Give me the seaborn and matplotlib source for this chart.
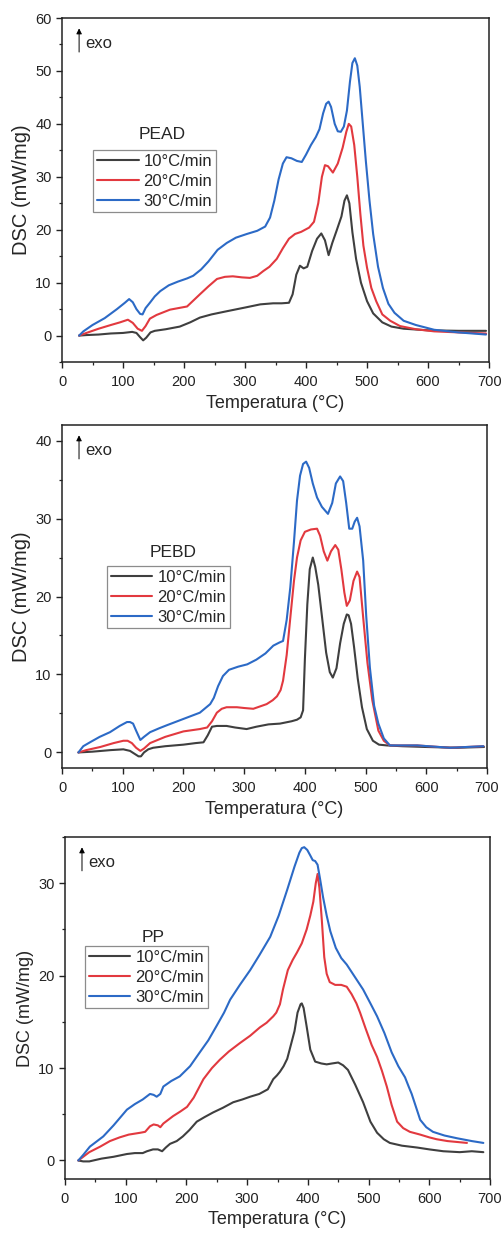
import pandas as pd
import matplotlib
matplotlib.use('Agg')
import matplotlib.pyplot as plt
from matplotlib.ticker import MultipleLocator
import seaborn as sns

# taxas de aquecimento
taxas = ['10°C/min', '20°C/min', '30°C/min']
cores = ['#3f3f3f', '#e2393f', '#2c6ac6']

# ---- PEAD ----
pead_T10 = [28, 40, 60, 80, 100, 115, 122, 128, 133, 138, 145, 152, 170, 193, 210, 226, 245, 270, 300, 325, 346,
            360, 372, 378, 384, 390, 396, 402, 410, 418, 425, 431, 437, 443, 450, 458, 463, 467, 471, 476, 482,
            490, 500, 510, 525, 540, 560, 600, 650, 695]
pead_D10 = [0, 0.1, 0.2, 0.4, 0.5, 0.7, 0.5, -0.3, -0.9, -0.4, 0.6, 0.9, 1.2, 1.7, 2.5, 3.4, 4.0, 4.6, 5.3, 5.9, 6.1,
            6.1, 6.2, 7.8, 11.5, 13.2, 12.7, 13.0, 16.0, 18.3, 19.3, 18.0, 15.2, 17.5, 19.8, 22.5, 25.5, 26.5, 25.0,
            19.5, 14.5, 10.0, 6.5, 4.2, 2.5, 1.7, 1.3, 1.0, 0.9, 0.9]
pead_T20 = [28, 40, 60, 80, 95, 108, 116, 124, 131, 137, 144, 155, 177, 205, 226, 240, 254, 267, 280, 295, 308, 320,
            330, 340, 352, 362, 372, 382, 392, 405, 413, 420, 426, 431, 436, 444, 452, 460, 466, 470, 474, 479, 484,
            489, 494, 500, 507, 515, 525, 538, 554, 580, 610, 650, 695]
pead_D20 = [0, 0.5, 1.3, 2.0, 2.5, 3.0, 2.4, 1.3, 0.9, 1.8, 3.2, 3.9, 4.9, 5.5, 7.8, 9.3, 10.7, 11.1, 11.2, 11.0, 10.9,
            11.3, 12.2, 13.0, 14.5, 16.5, 18.3, 19.2, 19.6, 20.4, 21.5, 25.0, 30.0, 32.2, 32.0, 30.8, 32.5, 35.5,
            38.5, 40.0, 39.5, 36.0, 30.0, 23.0, 17.0, 12.8, 9.0, 6.5, 4.0, 2.8, 1.8, 1.2, 0.8, 0.6, 0.4]
pead_T30 = [28, 35, 50, 70, 90, 103, 110, 116, 122, 128, 132, 137, 144, 152, 161, 175, 190, 205, 215, 228, 240, 255,
            270, 285, 303, 320, 333, 341, 348, 355, 362, 368, 376, 385, 393, 400, 408, 416, 422, 428, 433, 437, 441,
            447, 452, 457, 462, 467, 472, 476, 480, 484, 488, 493, 498, 504, 510, 518, 526, 535, 545, 560, 580, 610,
            650, 695]
pead_D30 = [0, 0.8, 2.0, 3.3, 5.0, 6.2, 6.9, 6.3, 5.0, 4.1, 4.0, 5.2, 6.2, 7.4, 8.4, 9.5, 10.2, 10.8, 11.3, 12.5, 14.0,
            16.2, 17.5, 18.5, 19.2, 19.8, 20.6, 22.3, 25.5, 29.5, 32.5, 33.7, 33.5, 33.0, 32.8, 34.2, 36.0, 37.5,
            39.0, 42.0, 43.8, 44.2, 43.2, 40.0, 38.6, 38.5, 39.5, 42.5, 48.0, 51.5, 52.4, 51.0, 47.0, 40.0, 33.0,
            25.5, 19.2, 13.0, 9.0, 6.0, 4.3, 2.8, 2.0, 1.1, 0.6, 0.2]

# ---- PEBD ----
pebd_T10 = [27, 50, 80, 101, 112, 120, 126, 130, 135, 142, 150, 170, 200, 220, 233, 240, 247, 255, 271, 285, 304,
            320, 340, 359, 378, 387, 393, 397, 400, 404, 408, 413, 417, 422, 428, 435, 441, 446, 452, 458, 464, 469,
            472, 476, 481, 487, 494, 502, 512, 522, 535, 560, 600, 650, 695]
pebd_D10 = [0, 0.1, 0.3, 0.4, 0.2, -0.2, -0.5, -0.5, 0.0, 0.4, 0.6, 0.8, 1.0, 1.2, 1.3, 2.2, 3.3, 3.4, 3.4, 3.2, 3.0,
            3.3, 3.6, 3.7, 4.0, 4.2, 4.5, 5.4, 12.0, 19.0, 23.5, 25.0, 23.8, 21.5, 17.5, 12.8, 10.3, 9.6, 10.8, 14.0,
            16.5, 17.7, 17.6, 16.5, 13.5, 9.5, 5.8, 3.0, 1.5, 1.0, 0.9, 0.8, 0.7, 0.6, 0.7]
pebd_T20 = [27, 40, 63, 85, 101, 108, 115, 122, 129, 135, 145, 170, 200, 227, 239, 247, 255, 263, 271, 288, 300, 315,
            337, 347, 354, 360, 364, 370, 376, 382, 387, 393, 400, 410, 420, 425, 431, 437, 443, 450, 455, 460, 465,
            469, 474, 480, 486, 490, 496, 503, 511, 521, 530, 540, 585, 639, 694]
pebd_D20 = [0, 0.3, 0.7, 1.2, 1.5, 1.5, 1.2, 0.6, 0.2, 0.5, 1.2, 2.0, 2.7, 3.0, 3.2, 4.0, 5.1, 5.6, 5.8, 5.8, 5.7, 5.6,
            6.2, 6.7, 7.2, 8.0, 9.2, 12.5, 17.3, 22.0, 25.0, 27.2, 28.3, 28.6, 28.7, 27.8, 25.8, 24.6, 25.8, 26.6,
            26.0, 23.5, 20.5, 18.8, 19.5, 22.0, 23.2, 22.5, 17.3, 11.5, 6.7, 2.8, 1.5, 0.9, 0.9, 0.6, 0.8]
pebd_T30 = [27, 35, 46, 62, 79, 95, 107, 112, 117, 122, 129, 135, 145, 160, 173, 200, 227, 244, 250, 257, 265, 275,
            290, 305, 320, 335, 348, 358, 364, 370, 376, 382, 387, 392, 397, 402, 407, 413, 420, 428, 438, 445, 451,
            458, 463, 468, 473, 478, 482, 486, 490, 496, 501, 507, 514, 521, 530, 540, 585, 639, 694]
pebd_D30 = [0, 0.8, 1.3, 2.0, 2.6, 3.4, 3.9, 3.9, 3.7, 2.8, 1.6, 2.0, 2.6, 3.1, 3.5, 4.3, 5.1, 6.2, 7.0, 8.5, 9.8,
            10.6, 11.0, 11.3, 11.9, 12.7, 13.7, 14.1, 14.3, 17.0, 21.2, 27.0, 32.3, 35.5, 37.0, 37.3, 36.5, 34.5,
            32.7, 31.5, 30.6, 32.0, 34.5, 35.4, 34.8, 32.0, 28.7, 28.7, 29.6, 30.1, 29.0, 24.6, 17.5, 10.9, 6.0,
            3.7, 1.8, 0.9, 0.9, 0.6, 0.8]

# ---- PP ----
pp_T10 = [22, 30, 40, 60, 80, 102, 115, 128, 135, 145, 153, 160, 166, 173, 184, 194, 205, 217, 230, 244, 260, 277,
          292, 305, 320, 334, 343, 349, 354, 360, 366, 372, 378, 383, 388, 390, 393, 398, 404, 412, 422, 431, 440,
          450, 458, 466, 478, 491, 503, 514, 525, 535, 555, 580, 600, 623, 650, 670, 689]
pp_D10 = [0, -0.1, -0.1, 0.2, 0.4, 0.7, 0.8, 0.8, 1.0, 1.2, 1.2, 1.0, 1.4, 1.8, 2.1, 2.6, 3.3, 4.2, 4.7, 5.2, 5.7,
          6.3, 6.6, 6.9, 7.2, 7.7, 8.8, 9.2, 9.6, 10.2, 11.0, 12.5, 14.0, 16.0, 16.9, 17.0, 16.5, 14.5, 12.0, 10.7,
          10.5, 10.4, 10.5, 10.6, 10.3, 9.8, 8.2, 6.3, 4.2, 3.0, 2.3, 1.9, 1.6, 1.4, 1.2, 1.0, 0.9, 1.0, 0.9]
pp_T20 = [22, 40, 58, 74, 90, 105, 124, 132, 140, 146, 153, 157, 162, 170, 178, 190, 201, 212, 228, 242, 255, 270,
          288, 305, 321, 332, 343, 348, 354, 359, 367, 375, 382, 390, 398, 404, 409, 413, 416, 419, 423, 427, 431,
          436, 445, 455, 464, 472, 480, 486, 495, 505, 514, 522, 530, 538, 547, 557, 568, 585, 600, 612, 630, 662]
pp_D20 = [0, 0.9, 1.5, 2.1, 2.5, 2.8, 3.0, 3.1, 3.7, 3.9, 3.8, 3.6, 4.0, 4.4, 4.8, 5.3, 5.8, 6.8, 8.8, 10.0, 10.9,
          11.8, 12.7, 13.5, 14.4, 14.9, 15.6, 16.0, 16.9, 18.5, 20.6, 21.7, 22.5, 23.5, 25.0, 26.5, 28.0, 30.0,
          31.0, 29.5, 26.0, 22.0, 20.2, 19.3, 19.0, 19.0, 18.8, 18.0, 17.0, 16.0, 14.3, 12.5, 11.2, 9.7, 8.0, 6.0,
          4.2, 3.5, 3.1, 2.8, 2.5, 2.3, 2.1, 1.9]
pp_T30 = [22, 30, 41, 63, 80, 102, 115, 128, 140, 146, 151, 157, 162, 175, 189, 206, 222, 236, 250, 262, 272, 288,
          305, 320, 338, 352, 366, 378, 386, 390, 394, 399, 404, 408, 412, 416, 420, 425, 431, 437, 446, 455, 464,
          478, 491, 503, 514, 526, 538, 549, 560, 566, 571, 578, 585, 595, 606, 625, 646, 670, 689]
pp_D30 = [0, 0.6, 1.5, 2.6, 3.8, 5.5, 6.1, 6.6, 7.2, 7.1, 6.9, 7.2, 8.0, 8.6, 9.1, 10.2, 11.7, 13.0, 14.6, 16.0,
          17.4, 19.0, 20.6, 22.2, 24.2, 26.5, 29.3, 31.8, 33.3, 33.8, 33.9, 33.6, 33.0, 32.5, 32.4, 32.0, 30.5, 28.5,
          26.5, 24.8, 23.0, 21.9, 21.2, 19.8, 18.5, 17.0, 15.6, 13.8, 11.7, 10.2, 9.0, 8.0, 7.2, 5.8, 4.4, 3.6, 3.1,
          2.7, 2.4, 2.1, 1.9]

sns.set_style('ticks')
plt.rcParams['font.family'] = ['Liberation Sans', 'DejaVu Sans']


def monta_df(curvas):
    partes = []
    for taxa, (T, D) in zip(taxas, curvas):
        partes.append(pd.DataFrame({'Temperatura': T, 'DSC': D, 'Taxa': taxa}))
    return pd.concat(partes, ignore_index=True)


def painel(ax, nome, curvas, ylim, ymaj, leg_xy, nome_xy, ylab_size):
    df = monta_df(curvas)
    sns.lineplot(data=df, x='Temperatura', y='DSC', hue='Taxa', palette=cores, estimator=None,
                 sort=False, linewidth=1.5, legend=False, ax=ax)
    ax.set_xlim(0, 700)
    ax.set_ylim(*ylim)
    ax.xaxis.set_major_locator(MultipleLocator(100))
    ax.xaxis.set_minor_locator(MultipleLocator(50))
    ax.yaxis.set_major_locator(MultipleLocator(ymaj))
    ax.yaxis.set_minor_locator(MultipleLocator(5))
    ax.tick_params(which='major', direction='out', length=4.5, width=1.0, labelsize=10.5,
                   colors='#222222', pad=3)
    ax.tick_params(axis='x', which='major', pad=5)
    ax.tick_params(which='minor', direction='out', length=2.5, width=0.9, colors='#222222')
    for s in ax.spines.values():
        s.set_visible(True)
        s.set_linewidth(1.1)
        s.set_color('#222222')
    ax.set_xlabel('Temperatura (°C)', fontsize=13)
    ax.set_ylabel('DSC (mW/mg)', fontsize=ylab_size)
    ax.xaxis.set_label_coords(0.5, -0.095)
    ax.yaxis.set_label_coords(-0.072, 0.5)

    ax.legend(ax.lines[:3], taxas, loc='upper left', bbox_to_anchor=leg_xy, fontsize=12,
              frameon=True, fancybox=False, edgecolor='#8c8c8c', framealpha=1,
              handlelength=2.5, handletextpad=0.3, borderpad=0.22, labelspacing=0.3,
              borderaxespad=0)
    ax.get_legend().get_frame().set_linewidth(0.9)
    ax.text(nome_xy[0], nome_xy[1], nome, transform=ax.transAxes, ha='center', va='center', fontsize=12.5)

    # seta exo
    ax.annotate('', xy=(0.04, 0.978), xytext=(0.04, 0.893), xycoords='axes fraction',
                arrowprops=dict(arrowstyle='-|>', lw=0.7, color='black', mutation_scale=8))
    ax.text(0.055, 0.925, 'exo', transform=ax.transAxes, ha='left', va='center', fontsize=12)


fig = plt.figure(figsize=(5.03, 12.34), dpi=100)
ax1 = fig.add_axes([0.1233, 0.7066, 0.849, 0.2788])
ax2 = fig.add_axes([0.1233, 0.3776, 0.845, 0.278])
ax3 = fig.add_axes([0.1292, 0.0446, 0.845, 0.2771])

painel(ax1, 'PEAD', [(pead_T10, pead_D10), (pead_T20, pead_D20), (pead_T30, pead_D30)],
       (-5, 60), 10, (0.073, 0.616), (0.234, 0.66), 14.5)
painel(ax2, 'PEBD', [(pebd_T10, pebd_D10), (pebd_T20, pebd_D20), (pebd_T30, pebd_D30)],
       (-2, 42), 10, (0.106, 0.589), (0.261, 0.627), 14.5)
painel(ax3, 'PP', [(pp_T10, pp_D10), (pp_T20, pp_D20), (pp_T30, pp_D30)],
       (-2, 35), 10, (0.047, 0.681), (0.207, 0.705), 13)

fig.savefig('out.png', dpi=100)
